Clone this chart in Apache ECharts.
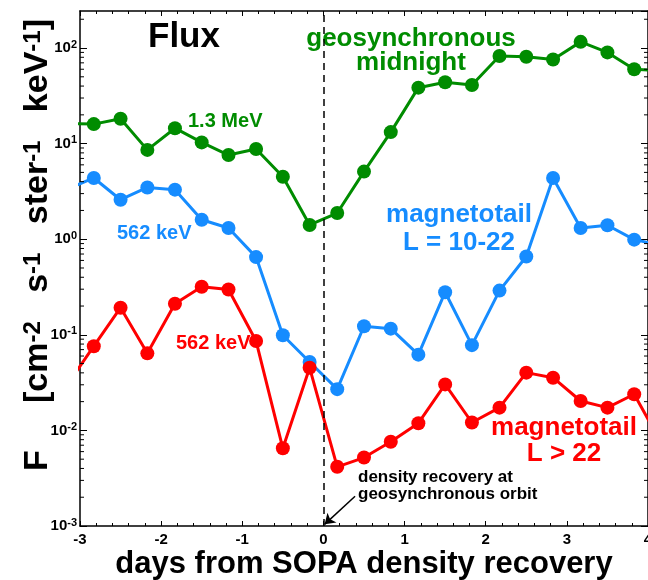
<!DOCTYPE html>
<html>
<head>
<meta charset="utf-8">
<script src="https://cdn.jsdelivr.net/npm/echarts@6/dist/echarts.min.js"></script>
<style>
  html, body { margin: 0; padding: 0; background: #fff; }
  #chart { width: 648px; height: 580px; }
</style>
</head>
<body>
<div id="chart"></div>
<script>
// days from SOPA density recovery (first/last points sit just outside the frame)
const days = [-3.17, -2.83, -2.50, -2.17, -1.83, -1.50, -1.17, -0.83, -0.50, -0.17,
  0.17, 0.50, 0.83, 1.17, 1.50, 1.83, 2.17, 2.50, 2.83, 3.17, 3.50, 3.83, 4.17];
// geosynchronous midnight, 1.3 MeV
const geoFlux = [16.2, 16.0, 18.2, 8.6, 14.5, 10.3, 7.6, 8.8, 4.5, 1.41,
  1.88, 5.1, 13.2, 38.5, 43.9, 41.1, 82.6, 81, 76, 116, 90, 60, 58];
// magnetotail L = 10-22, 562 keV
const tailMidFlux = [3.3, 4.37, 2.59, 3.48, 3.30, 1.60, 1.31, 0.65, 0.099, 0.052,
  0.027, 0.123, 0.116, 0.062, 0.279, 0.078, 0.29, 0.66, 4.37, 1.31, 1.40, 0.99, 0.86];
// magnetotail L > 22, 562 keV
const tailFarFlux = [0.029, 0.076, 0.192, 0.064, 0.211, 0.318, 0.298, 0.086, 0.0065, 0.0452,
  0.00416, 0.0052, 0.0076, 0.0119, 0.0303, 0.0121, 0.0173, 0.0402, 0.0356, 0.0203, 0.0173, 0.0239, 0.0072];

const xTicks = [-3, -2, -1, 0, 1, 2, 3, 4];
const yDecades = [-3, -2, -1, 0, 1, 2];
const yMin = 0.001, yMax = 244;

// log minor ticks 2..9 x 10^n
const yMinorTicks = [];
yDecades.forEach(function (d) {
  for (let m = 2; m <= 9; m++) {
    const v = m * Math.pow(10, d);
    if (v < yMax) yMinorTicks.push(v);
  }
});

const GREEN = '#008c00', BLUE = '#168cff', RED = '#ff0000';
const FONT = 'Liberation Sans, Arial, Helvetica, sans-serif';

function pairs(ys) {
  return days.map(function (d, i) { return [d, ys[i]]; });
}

const chartDom = echarts.init(document.getElementById('chart'));

function lineSeries(name, color, ys) {
  return {
    name: name,
    type: 'line',
    data: pairs(ys),
    symbol: 'circle',
    symbolSize: 14,
    clip: true,
    lineStyle: { color: color, width: 3 },
    itemStyle: { color: color },
    z: 3,
  };
}

const sG = lineSeries('geo', GREEN, geoFlux);
sG.markLine = {
  silent: true,
  symbol: ['none', 'none'],
  label: { show: false },
  lineStyle: { color: '#000', width: 1.5, type: [7, 5] },
  data: [{ xAxis: 0 }],
};
const sB = lineSeries('tailMid', BLUE, tailMidFlux);
const sR = lineSeries('tailFar', RED, tailFarFlux);
sR.markLine = {
  silent: true,
  label: { show: false },
  lineStyle: { color: '#000', width: 1.5, type: 'solid' },
  data: [[
    { coord: [0.39, 0.00205], symbol: 'none' },
    { coord: [0.015, 0.00104], symbol: 'arrow', symbolSize: 10 },
  ]],
};

const frameLine = { onZero: false, lineStyle: { color: '#000', width: 1.5 } };

const option = {
  animation: false,
  textStyle: { fontFamily: FONT },
  grid: { left: 80, right: 0, top: 11, bottom: 54, containLabel: false, outerBoundsMode: 'none' },
  xAxis: [
    {
      type: 'value',
      min: -3, max: 4, interval: 1,
      axisLine: frameLine,
      axisTick: { inside: true, length: 5, lineStyle: { color: '#000' } },
      minorTick: { show: true, splitNumber: 5, length: 3, lineStyle: { color: '#000' } },
      splitLine: { show: false },
      axisLabel: {
        color: '#000', fontWeight: 'bold', fontSize: 15, margin: 6, fontFamily: FONT,
        showMaxLabel: true,
        formatter: function (v) { return xTicks.indexOf(v) >= 0 ? String(v) : ''; },
      },
      name: 'days from SOPA density recovery',
      nameLocation: 'middle',
      nameGap: 23,
      nameMoveOverlap: false,
      nameTextStyle: { color: '#000', fontWeight: 'bold', fontSize: 31, fontFamily: FONT },
    },
    {
      type: 'value', position: 'top',
      min: -3, max: 4, interval: 1,
      axisLine: frameLine,
      axisTick: { inside: true, length: 5, lineStyle: { color: '#000' } },
      minorTick: { show: true, splitNumber: 5, length: 3, lineStyle: { color: '#000' } },
      splitLine: { show: false },
      axisLabel: { show: false },
    },
  ],
  yAxis: [
    {
      type: 'log', logBase: 10, min: yMin, max: yMax,
      axisLine: frameLine,
      axisTick: { inside: true, length: 7, lineStyle: { color: '#000' } },
      splitLine: { show: false },
      axisLabel: {
        color: '#000', margin: 3, fontFamily: FONT,
        showMaxLabel: false,
        formatter: function (v) {
          const e = Math.round(Math.log10(v));
          if (Math.abs(Math.log10(v) - e) > 1e-6) return '';
          return '{b|10}{sup|' + e + '}';
        },
        rich: {
          b: { fontSize: 15, fontWeight: 'bold', color: '#000', fontFamily: FONT, lineHeight: 24, verticalAlign: 'middle' },
          sup: { fontSize: 11, fontWeight: 'bold', color: '#000', fontFamily: FONT, lineHeight: 11, verticalAlign: 'top', padding: [3, 0, 0, 0] },
        },
      },
      name: 'F     [cm{sup|-2}   s{sup|-1}   ster{sup|-1}   keV{sup|-1}]',
      nameLocation: 'middle',
      nameRotate: 90,
      nameGap: 25,
      nameMoveOverlap: false,
      nameTextStyle: {
        color: '#000', fontWeight: 'bold', fontSize: 34, fontFamily: FONT,
        padding: [0, 0, 0, 47],
        rich: {
          sup: { fontSize: 24, fontWeight: 'bold', color: '#000', fontFamily: FONT, verticalAlign: 'top', lineHeight: 24 },
        },
      },
    },
    {
      type: 'log', logBase: 10, min: yMin, max: yMax, position: 'right',
      axisLine: frameLine,
      axisTick: { inside: true, length: 7, lineStyle: { color: '#000' } },
      splitLine: { show: false },
      axisLabel: { show: false },
    },
  ],
  graphic: [
    { type: 'text', left: 148, top: 20, style: { text: 'Flux', fill: '#000', font: 'bold 35px ' + FONT } },
    { type: 'text', x: 411, y: 51, style: { text: 'geosynchronous\nmidnight', font: 'bold 26px ' + FONT, fill: GREEN, align: 'center', verticalAlign: 'middle', lineHeight: 24 } },
    { type: 'text', x: 188, y: 121, style: { text: '1.3 MeV', font: 'bold 20px ' + FONT, fill: GREEN, verticalAlign: 'middle' } },
    { type: 'text', x: 117, y: 233, style: { text: '562 keV', font: 'bold 20px ' + FONT, fill: BLUE, verticalAlign: 'middle' } },
    { type: 'text', x: 459, y: 229, style: { text: 'magnetotail\nL = 10-22', font: 'bold 26px ' + FONT, fill: BLUE, align: 'center', verticalAlign: 'middle', lineHeight: 28 } },
    { type: 'text', x: 176, y: 343, style: { text: '562 keV', font: 'bold 20px ' + FONT, fill: RED, verticalAlign: 'middle' } },
    { type: 'text', x: 564, y: 441, style: { text: 'magnetotail\nL > 22', font: 'bold 26px ' + FONT, fill: RED, align: 'center', verticalAlign: 'middle', lineHeight: 26 } },
    { type: 'text', x: 358, y: 486, style: { text: 'density recovery at\ngeosynchronous orbit', font: 'bold 17px ' + FONT, fill: '#000', verticalAlign: 'middle', lineHeight: 17 } },
  ],
  series: [
    sG, sB, sR,
    {
      // log-spaced minor ticks on the left and right frame
      type: 'custom',
      silent: true,
      clip: false,
      z: 5,
      data: yMinorTicks.map(function (v) { return [-3, v]; }),
      renderItem: function (params, api) {
        const v = api.value(1);
        const l = api.coord([-3, v]);
        const r = api.coord([4, v]);
        return {
          type: 'group',
          children: [
            { type: 'line', shape: { x1: l[0], y1: l[1], x2: l[0] + 4, y2: l[1] }, style: { stroke: '#000', lineWidth: 1 } },
            { type: 'line', shape: { x1: r[0], y1: r[1], x2: r[0] - 4, y2: r[1] }, style: { stroke: '#000', lineWidth: 1 } },
          ],
        };
      },
    },
  ],
};

chartDom.setOption(option);
window.addEventListener('resize', function () { chartDom.resize(); });
</script>
</body>
</html>
